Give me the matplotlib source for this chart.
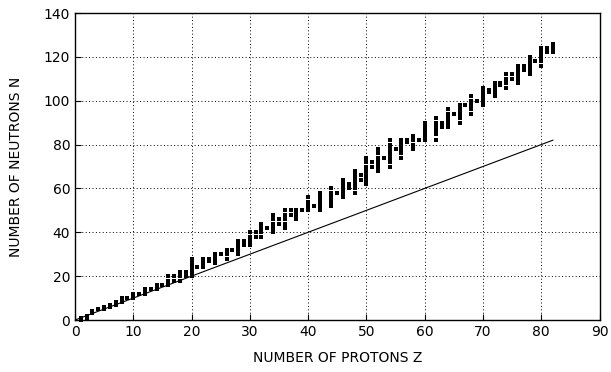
import matplotlib
matplotlib.use("Agg")
import matplotlib.pyplot as plt

# Stable nuclides: proton number Z -> list of neutron numbers N
stable = {
    1: [0, 1], 2: [1, 2], 3: [3, 4], 4: [5], 5: [5, 6], 6: [6, 7], 7: [7, 8],
    8: [8, 9, 10], 9: [10], 10: [10, 11, 12], 11: [12], 12: [12, 13, 14],
    13: [14], 14: [14, 15, 16], 15: [16], 16: [16, 17, 18, 20], 17: [18, 20],
    18: [18, 20, 22], 19: [20, 21, 22], 20: [20, 22, 23, 24, 26, 28], 21: [24],
    22: [24, 25, 26, 27, 28], 23: [27, 28], 24: [26, 28, 29, 30], 25: [30],
    26: [28, 30, 31, 32], 27: [32], 28: [30, 32, 33, 34, 36], 29: [34, 36],
    30: [34, 36, 37, 38, 40], 31: [38, 40], 32: [38, 40, 41, 42, 44], 33: [42],
    34: [40, 42, 43, 44, 46, 48], 35: [44, 46], 36: [42, 44, 46, 47, 48, 50],
    37: [48, 50], 38: [46, 48, 49, 50], 39: [50], 40: [50, 51, 52, 54, 56],
    41: [52], 42: [50, 52, 53, 54, 55, 56, 58], 44: [52, 54, 55, 56, 57, 58, 60],
    45: [58], 46: [56, 58, 59, 60, 62, 64], 47: [60, 62],
    48: [58, 60, 62, 63, 64, 65, 66, 68], 49: [64, 66],
    50: [62, 64, 65, 66, 67, 68, 69, 70, 72, 74], 51: [70, 72],
    52: [68, 70, 71, 72, 73, 74, 76, 78], 53: [74],
    54: [70, 72, 74, 75, 76, 77, 78, 80, 82], 55: [78],
    56: [74, 76, 78, 79, 80, 81, 82], 57: [81, 82], 58: [78, 80, 82, 84],
    59: [82], 60: [82, 83, 84, 85, 86, 88, 90], 62: [82, 85, 86, 87, 88, 90, 92],
    63: [88, 90], 64: [88, 90, 91, 92, 93, 94, 96], 65: [94],
    66: [90, 92, 94, 95, 96, 97, 98], 67: [98], 68: [94, 96, 98, 99, 100, 102],
    69: [100], 70: [98, 100, 101, 102, 103, 104, 106], 71: [104, 105],
    72: [102, 104, 105, 106, 107, 108], 73: [107, 108],
    74: [106, 108, 109, 110, 112], 75: [110, 112],
    76: [108, 110, 111, 112, 113, 114, 116], 77: [114, 116],
    78: [112, 114, 116, 117, 118, 120], 79: [118],
    80: [116, 118, 119, 120, 121, 122, 124], 81: [122, 124],
    82: [122, 124, 125, 126],
}
Z_vals = [z for z, ns in stable.items() for n in ns]
N_vals = [n for z, ns in stable.items() for n in ns]

line_Z = [0, 82]
line_N = [0, 82]

fig = plt.figure(figsize=(6.11, 3.72), dpi=100)
ax = fig.add_axes([75/611, 52/372, (599.5-75)/611, (320-13)/372])

ax.plot(line_Z, line_N, color='black', linewidth=0.8)
ax.plot(Z_vals, N_vals, linestyle='none', marker='s', markersize=3.4,
        markerfacecolor='black', markeredgewidth=0, color='black', clip_on=False)

ax.set_xlim(0, 90)
ax.set_ylim(0, 140)
ax.set_xticks(range(0, 91, 10))
ax.set_yticks(range(0, 141, 20))
ax.grid(True, linestyle=(0, (1, 2.5)), color='black', linewidth=0.7)
ax.set_axisbelow(True)
ax.tick_params(direction='in', length=4, width=0.8, labelsize=10,
               top=False, right=False)
for s in ax.spines.values():
    s.set_linewidth(1.0)
ax.set_xlabel('NUMBER OF PROTONS Z', fontsize=10, labelpad=9)
ax.set_ylabel('NUMBER OF NEUTRONS N', fontsize=10, labelpad=15)

fig.savefig('out.png', dpi=100)
